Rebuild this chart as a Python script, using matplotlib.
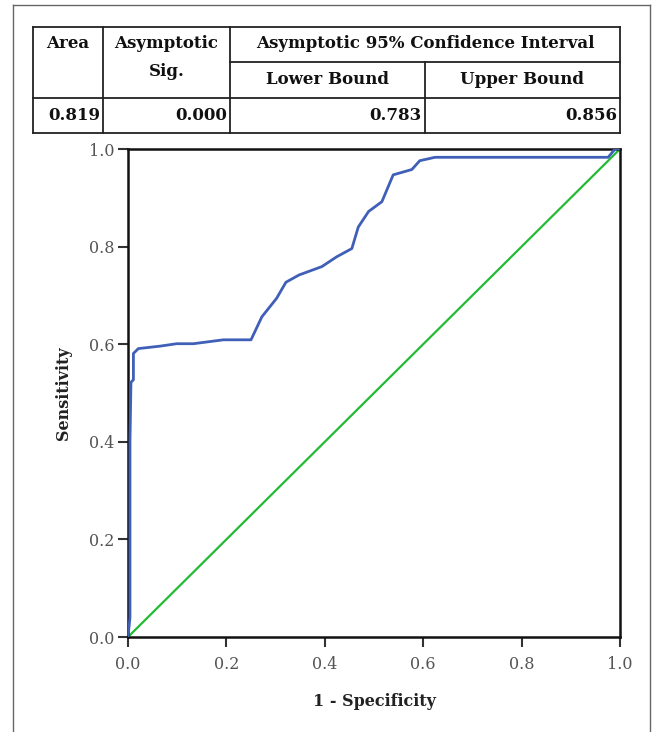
import matplotlib
matplotlib.use("Agg")
import matplotlib.pyplot as plt

# ROC curve points
fpr = [0.0, 0.004, 0.004, 0.006, 0.011, 0.011, 0.021, 0.065, 0.099, 0.133, 0.194,
       0.250, 0.258, 0.272, 0.302, 0.321, 0.348, 0.394, 0.424, 0.455, 0.468,
       0.489, 0.516, 0.539, 0.577, 0.593, 0.624, 0.976, 0.99, 1.0]
tpr = [0.0, 0.04, 0.40, 0.522, 0.527, 0.581, 0.591, 0.596, 0.601, 0.601, 0.609,
       0.609, 0.626, 0.656, 0.694, 0.727, 0.742, 0.759, 0.779, 0.796, 0.840,
       0.872, 0.892, 0.947, 0.958, 0.976, 0.983, 0.983, 1.0, 1.0]
ref = [0.0, 1.0]

# table contents
head_area = "Area"
head_sig = ["Asymptotic", "Sig."]
head_ci = "Asymptotic 95% Confidence Interval"
sub_heads = ["Lower Bound", "Upper Bound"]
row_vals = ["0.819", "0.000", "0.783", "0.856"]

W, H = 653, 732
fig = plt.figure(figsize=(W / 100, H / 100), dpi=100)
fig.patch.set_facecolor("white")

# overlay in pixel coordinates for frame + table
ov = fig.add_axes([0, 0, 1, 1])
ov.set_xlim(0, W)
ov.set_ylim(H, 0)
ov.axis("off")

# outer frame
ov.plot([13, 13], [5, H + 5], color="#666666", lw=1)
ov.plot([13, 650], [5, 5], color="#666666", lw=1)
ov.plot([650, 650], [5, H + 5], color="#666666", lw=1)

# table grid
tc = "#222222"
cols = [33, 103, 230, 425, 620]
t_top, t_mid, t_head, t_bot = 27, 62, 98, 133
for y in [t_top, t_head, t_bot]:
    ov.plot([cols[0], cols[-1]], [y, y], color=tc, lw=1.3)
ov.plot([cols[2], cols[-1]], [t_mid, t_mid], color=tc, lw=1.3)
for x in [cols[0], cols[1], cols[2], cols[4]]:
    ov.plot([x, x], [t_top, t_bot], color=tc, lw=1.3)
ov.plot([cols[3], cols[3]], [t_mid, t_bot], color=tc, lw=1.3)

tf = dict(family="DejaVu Serif", weight="bold", fontsize=12, color="#111111")
ov.text((cols[0] + cols[1]) / 2, 43, head_area, ha="center", va="center", **tf)
ov.text((cols[1] + cols[2]) / 2, 43, head_sig[0], ha="center", va="center", **tf)
ov.text((cols[1] + cols[2]) / 2, 72, head_sig[1], ha="center", va="center", **tf)
ov.text((cols[2] + cols[4]) / 2, 43, head_ci, ha="center", va="center", **tf)
ov.text((cols[2] + cols[3]) / 2, 79, sub_heads[0], ha="center", va="center", **tf)
ov.text((cols[3] + cols[4]) / 2, 79, sub_heads[1], ha="center", va="center", **tf)
for i, v in enumerate(row_vals):
    ov.text(cols[i + 1] - 3, 116, v, ha="right", va="center", **tf)

# ROC plot
ax = fig.add_axes([128 / W, 1 - 637 / H, (620 - 128) / W, (637 - 149) / H])
ax.plot(fpr, tpr, color="#4060b8", lw=2, solid_joinstyle="round", zorder=3)
ax.plot(ref, ref, color="#22bb33", lw=1.6, zorder=2)
ax.set_xlim(0, 1)
ax.set_ylim(0, 1)
ax.set_xticks([0, 0.2, 0.4, 0.6, 0.8, 1.0])
ax.set_yticks([0, 0.2, 0.4, 0.6, 0.8, 1.0])
ax.set_xticklabels(["0.0", "0.2", "0.4", "0.6", "0.8", "1.0"])
ax.set_yticklabels(["0.0", "0.2", "0.4", "0.6", "0.8", "1.0"])
for s in ax.spines.values():
    s.set_linewidth(1.8)
    s.set_color("#111111")
ax.tick_params(direction="out", length=7, width=1.5, color="#333333",
               labelsize=11.5, labelcolor="#555555")
ax.tick_params(axis="x", pad=7)
ax.tick_params(axis="y", pad=3)
for lab in ax.get_xticklabels() + ax.get_yticklabels():
    lab.set_family("DejaVu Serif")
ax.set_xlabel("1 - Specificity", family="DejaVu Serif", weight="bold",
              fontsize=11.5, color="#222222", labelpad=14)
ax.set_ylabel("Sensitivity", family="DejaVu Serif", weight="bold",
              fontsize=11.5, color="#222222", labelpad=12)

fig.savefig("out.png", dpi=100)
